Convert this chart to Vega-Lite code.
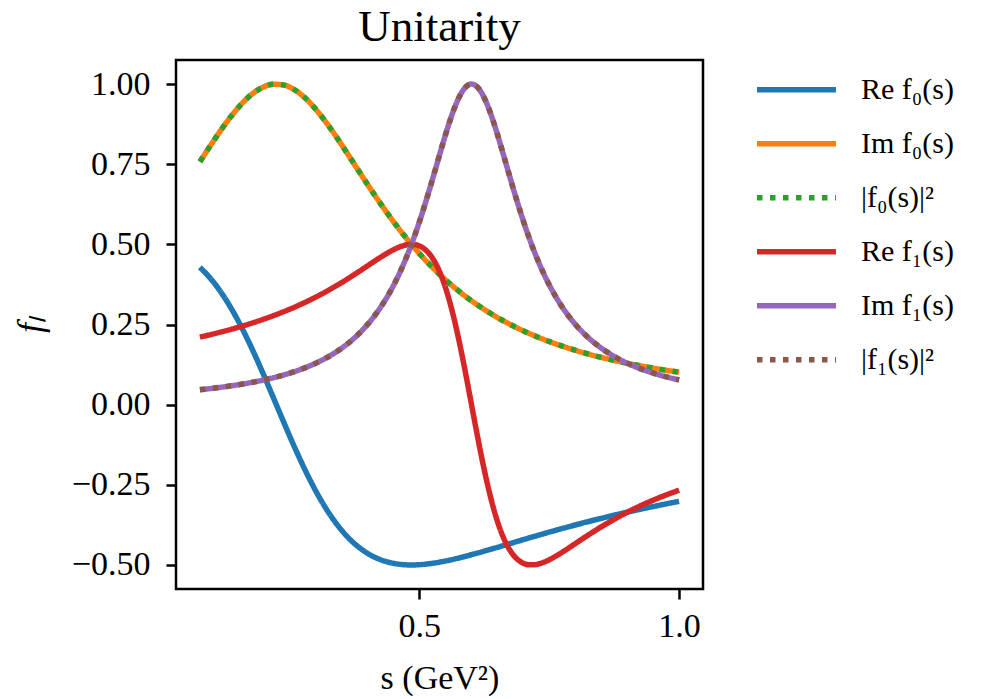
{
  "$schema": "https://vega.github.io/schema/vega-lite/v6.json",
  "autosize": {"type": "none"},
  "width": 527,
  "height": 529,
  "padding": {"left": 176, "top": 60, "right": 291, "bottom": 110},
  "background": "white",
  "config": {
    "view": {"stroke": "black", "strokeWidth": 2.5},
    "font": "Liberation Serif",
    "axis": {
      "grid": false,
      "domain": false,
      "tickColor": "black",
      "tickWidth": 2.5,
      "tickSize": 10,
      "labelColor": "black",
      "labelFont": "Liberation Serif",
      "labelFontSize": 34,
      "titleFont": "Liberation Serif",
      "titleFontWeight": "normal",
      "titleColor": "black"
    }
  },
  "title": {"text": "Unitarity", "font": "Liberation Serif", "fontSize": 45, "fontWeight": "normal", "color": "black", "offset": 10},
  "data": {"values": [
    {"s":0.078,"re0":0.4284,"im0":0.7577,"abs0":0.7577,"re1":0.2107,"im1":0.0466,"abs1":0.0466},
    {"s":0.10,"re0":0.3905,"im0":0.8123,"abs0":0.8123,"re1":0.2191,"im1":0.0505,"abs1":0.0505},
    {"s":0.12,"re0":0.3472,"im0":0.8598,"abs0":0.8598,"re1":0.2272,"im1":0.0546,"abs1":0.0546},
    {"s":0.14,"re0":0.2953,"im0":0.9034,"abs0":0.9034,"re1":0.2359,"im1":0.0592,"abs1":0.0592},
    {"s":0.16,"re0":0.2353,"im0":0.9412,"abs0":0.9412,"re1":0.2453,"im1":0.0643,"abs1":0.0643},
    {"s":0.18,"re0":0.1681,"im0":0.9709,"abs0":0.9709,"re1":0.2554,"im1":0.0701,"abs1":0.0701},
    {"s":0.20,"re0":0.0953,"im0":0.9908,"abs0":0.9908,"re1":0.2662,"im1":0.0768,"abs1":0.0768},
    {"s":0.22,"re0":0.0192,"im0":0.9996,"abs0":0.9996,"re1":0.2779,"im1":0.0843,"abs1":0.0843},
    {"s":0.24,"re0":-0.0575,"im0":0.9967,"abs0":0.9967,"re1":0.2905,"im1":0.0930,"abs1":0.0930},
    {"s":0.26,"re0":-0.1322,"im0":0.9822,"abs0":0.9822,"re1":0.3041,"im1":0.1031,"abs1":0.1031},
    {"s":0.28,"re0":-0.2025,"im0":0.9572,"abs0":0.9572,"re1":0.3189,"im1":0.1149,"abs1":0.1149},
    {"s":0.30,"re0":-0.2663,"im0":0.9232,"abs0":0.9232,"re1":0.3348,"im1":0.1286,"abs1":0.1286},
    {"s":0.32,"re0":-0.3224,"im0":0.8822,"abs0":0.8822,"re1":0.3520,"im1":0.1449,"abs1":0.1449},
    {"s":0.34,"re0":-0.3699,"im0":0.8364,"abs0":0.8364,"re1":0.3704,"im1":0.1642,"abs1":0.1642},
    {"s":0.36,"re0":-0.4090,"im0":0.7876,"abs0":0.7876,"re1":0.3901,"im1":0.1873,"abs1":0.1873},
    {"s":0.38,"re0":-0.4398,"im0":0.7378,"abs0":0.7378,"re1":0.4109,"im1":0.2151,"abs1":0.2151},
    {"s":0.40,"re0":-0.4632,"im0":0.6882,"abs0":0.6882,"re1":0.4324,"im1":0.2490,"abs1":0.2490},
    {"s":0.42,"re0":-0.4800,"im0":0.6400,"abs0":0.6400,"re1":0.4539,"im1":0.2903,"abs1":0.2903},
    {"s":0.44,"re0":-0.4911,"im0":0.5939,"abs0":0.5939,"re1":0.4740,"im1":0.3409,"abs1":0.3409},
    {"s":0.45,"re0":-0.4948,"im0":0.5718,"abs0":0.5718,"re1":0.4829,"im1":0.3704,"abs1":0.3704},
    {"s":0.46,"re0":-0.4975,"im0":0.5504,"abs0":0.5504,"re1":0.4905,"im1":0.4029,"abs1":0.4029},
    {"s":0.47,"re0":-0.4991,"im0":0.5297,"abs0":0.5297,"re1":0.4963,"im1":0.4389,"abs1":0.4389},
    {"s":0.48,"re0":-0.4999,"im0":0.5097,"abs0":0.5097,"re1":0.4995,"im1":0.4784,"abs1":0.4784},
    {"s":0.49,"re0":-0.4999,"im0":0.4905,"abs0":0.4905,"re1":0.4995,"im1":0.5217,"abs1":0.5217},
    {"s":0.50,"re0":-0.4992,"im0":0.4720,"abs0":0.4720,"re1":0.4953,"im1":0.5686,"abs1":0.5686},
    {"s":0.51,"re0":-0.4979,"im0":0.4542,"abs0":0.4542,"re1":0.4856,"im1":0.6191,"abs1":0.6191},
    {"s":0.52,"re0":-0.4960,"im0":0.4372,"abs0":0.4372,"re1":0.4693,"im1":0.6725,"abs1":0.6725},
    {"s":0.53,"re0":-0.4937,"im0":0.4209,"abs0":0.4209,"re1":0.4450,"im1":0.7280,"abs1":0.7280},
    {"s":0.54,"re0":-0.4909,"im0":0.4052,"abs0":0.4052,"re1":0.4114,"im1":0.7841,"abs1":0.7841},
    {"s":0.55,"re0":-0.4878,"im0":0.3902,"abs0":0.3902,"re1":0.3676,"im1":0.8390,"abs1":0.8390},
    {"s":0.56,"re0":-0.4844,"im0":0.3759,"abs0":0.3759,"re1":0.3129,"im1":0.8900,"abs1":0.8900},
    {"s":0.57,"re0":-0.4806,"im0":0.3622,"abs0":0.3622,"re1":0.2476,"im1":0.9344,"abs1":0.9344},
    {"s":0.58,"re0":-0.4767,"im0":0.3491,"abs0":0.3491,"re1":0.1729,"im1":0.9692,"abs1":0.9692},
    {"s":0.59,"re0":-0.4726,"im0":0.3366,"abs0":0.3366,"re1":0.0910,"im1":0.9917,"abs1":0.9917},
    {"s":0.60,"re0":-0.4682,"im0":0.3246,"abs0":0.3246,"re1":0.0052,"im1":1.0000,"abs1":1.0000},
    {"s":0.61,"re0":-0.4638,"im0":0.3132,"abs0":0.3132,"re1":-0.0809,"im1":0.9934,"abs1":0.9934},
    {"s":0.62,"re0":-0.4593,"im0":0.3023,"abs0":0.3023,"re1":-0.1634,"im1":0.9726,"abs1":0.9726},
    {"s":0.63,"re0":-0.4546,"im0":0.2919,"abs0":0.2919,"re1":-0.2391,"im1":0.9392,"abs1":0.9392},
    {"s":0.64,"re0":-0.4499,"im0":0.2819,"abs0":0.2819,"re1":-0.3056,"im1":0.8958,"abs1":0.8958},
    {"s":0.65,"re0":-0.4452,"im0":0.2723,"abs0":0.2723,"re1":-0.3616,"im1":0.8454,"abs1":0.8454},
    {"s":0.66,"re0":-0.4404,"im0":0.2632,"abs0":0.2632,"re1":-0.4067,"im1":0.7908,"abs1":0.7908},
    {"s":0.67,"re0":-0.4356,"im0":0.2545,"abs0":0.2545,"re1":-0.4415,"im1":0.7347,"abs1":0.7347},
    {"s":0.68,"re0":-0.4308,"im0":0.2462,"abs0":0.2462,"re1":-0.4668,"im1":0.6791,"abs1":0.6791},
    {"s":0.69,"re0":-0.4260,"im0":0.2382,"abs0":0.2382,"re1":-0.4840,"im1":0.6253,"abs1":0.6253},
    {"s":0.70,"re0":-0.4212,"im0":0.2305,"abs0":0.2305,"re1":-0.4944,"im1":0.5745,"abs1":0.5745},
    {"s":0.71,"re0":-0.4164,"im0":0.2232,"abs0":0.2232,"re1":-0.4993,"im1":0.5271,"abs1":0.5271},
    {"s":0.72,"re0":-0.4117,"im0":0.2162,"abs0":0.2162,"re1":-0.4997,"im1":0.4834,"abs1":0.4834},
    {"s":0.73,"re0":-0.4070,"im0":0.2095,"abs0":0.2095,"re1":-0.4968,"im1":0.4434,"abs1":0.4434},
    {"s":0.74,"re0":-0.4023,"im0":0.2031,"abs0":0.2031,"re1":-0.4913,"im1":0.4071,"abs1":0.4071},
    {"s":0.75,"re0":-0.3977,"im0":0.1970,"abs0":0.1970,"re1":-0.4839,"im1":0.3741,"abs1":0.3741},
    {"s":0.76,"re0":-0.3931,"im0":0.1911,"abs0":0.1911,"re1":-0.4751,"im1":0.3443,"abs1":0.3443},
    {"s":0.77,"re0":-0.3886,"im0":0.1854,"abs0":0.1854,"re1":-0.4654,"im1":0.3174,"abs1":0.3174},
    {"s":0.78,"re0":-0.3842,"im0":0.1800,"abs0":0.1800,"re1":-0.4552,"im1":0.2930,"abs1":0.2930},
    {"s":0.80,"re0":-0.3754,"im0":0.1698,"abs0":0.1698,"re1":-0.4337,"im1":0.2512,"abs1":0.2512},
    {"s":0.82,"re0":-0.3669,"im0":0.1603,"abs0":0.1603,"re1":-0.4122,"im1":0.2170,"abs1":0.2170},
    {"s":0.84,"re0":-0.3587,"im0":0.1516,"abs0":0.1516,"re1":-0.3914,"im1":0.1888,"abs1":0.1888},
    {"s":0.86,"re0":-0.3507,"im0":0.1436,"abs0":0.1436,"re1":-0.3716,"im1":0.1655,"abs1":0.1655},
    {"s":0.88,"re0":-0.3429,"im0":0.1361,"abs0":0.1361,"re1":-0.3531,"im1":0.1460,"abs1":0.1460},
    {"s":0.90,"re0":-0.3354,"im0":0.1292,"abs0":0.1292,"re1":-0.3358,"im1":0.1295,"abs1":0.1295},
    {"s":0.92,"re0":-0.3282,"im0":0.1228,"abs0":0.1228,"re1":-0.3198,"im1":0.1156,"abs1":0.1156},
    {"s":0.94,"re0":-0.3212,"im0":0.1168,"abs0":0.1168,"re1":-0.3050,"im1":0.1038,"abs1":0.1038},
    {"s":0.96,"re0":-0.3144,"im0":0.1112,"abs0":0.1112,"re1":-0.2913,"im1":0.0936,"abs1":0.0936},
    {"s":0.98,"re0":-0.3079,"im0":0.1060,"abs0":0.1060,"re1":-0.2786,"im1":0.0848,"abs1":0.0848},
    {"s":1.00,"re0":-0.3016,"im0":0.1012,"abs0":0.1012,"re1":-0.2669,"im1":0.0772,"abs1":0.0772}
  ]},
  "transform": [
    {"fold": ["re0", "im0", "abs0", "re1", "im1", "abs1"], "as": ["series", "value"]}
  ],
  "encoding": {
    "x": {"field": "s", "type": "quantitative",
      "scale": {"domain": [0.032, 1.046], "nice": false, "zero": false},
      "axis": {"values": [0.5, 1.0], "format": ".1f", "title": "s (GeV²)", "titleFontSize": 34, "labelPadding": 10, "titlePadding": 18}},
    "y": {"field": "value", "type": "quantitative",
      "scale": {"domain": [-0.575, 1.075], "nice": false, "zero": false},
      "axis": {"values": [-0.5, -0.25, 0, 0.25, 0.5, 0.75, 1.0], "format": ".2f", "title": "fₗ", "titleFontSize": 36, "titleFontStyle": "italic", "labelPadding": 16, "titlePadding": 22}},
    "color": {"field": "series", "type": "nominal",
      "scale": {"domain": ["re0", "im0", "abs0", "re1", "im1", "abs1"], "range": ["#1f77b4", "#ff7f0e", "#2ca02c", "#d62728", "#9467bd", "#8c564b"]},
      "legend": {"title": null, "orient": "none", "legendX": 578, "legendY": 3,
        "symbolType": "stroke", "symbolSize": 6241, "symbolStrokeWidth": 5.5, "clipHeight": 53.5,
        "labelFont": "Liberation Serif", "labelFontSize": 30, "labelColor": "black", "labelOffset": 22, "rowPadding": 0,
        "labelExpr": "datum.label == 're0' ? 'Re f₀(s)' : datum.label == 'im0' ? 'Im f₀(s)' : datum.label == 'abs0' ? '|f₀(s)|²' : datum.label == 're1' ? 'Re f₁(s)' : datum.label == 'im1' ? 'Im f₁(s)' : '|f₁(s)|²'"}},
    "strokeDash": {"field": "series", "type": "nominal",
      "scale": {"domain": ["re0", "im0", "abs0", "re1", "im1", "abs1"], "range": [[1, 0], [1, 0], [5.5, 7.5], [1, 0], [1, 0], [5.5, 7.5]]},
      "legend": {"title": null, "orient": "none", "legendX": 578, "legendY": 3,
        "symbolType": "stroke", "symbolSize": 6241, "symbolStrokeWidth": 5.5, "clipHeight": 53.5,
        "labelFont": "Liberation Serif", "labelFontSize": 30, "labelColor": "black", "labelOffset": 22, "rowPadding": 0,
        "labelExpr": "datum.label == 're0' ? 'Re f₀(s)' : datum.label == 'im0' ? 'Im f₀(s)' : datum.label == 'abs0' ? '|f₀(s)|²' : datum.label == 're1' ? 'Re f₁(s)' : datum.label == 'im1' ? 'Im f₁(s)' : '|f₁(s)|²'"}}
  },
  "layer": [
    {"transform": [{"filter": "datum.series == 're0'"}], "mark": {"type": "line", "interpolate": "monotone", "strokeWidth": 5.5}},
    {"transform": [{"filter": "datum.series == 'im0'"}], "mark": {"type": "line", "interpolate": "monotone", "strokeWidth": 5.5}},
    {"transform": [{"filter": "datum.series == 'abs0'"}], "mark": {"type": "line", "interpolate": "monotone", "strokeWidth": 5.5}},
    {"transform": [{"filter": "datum.series == 're1'"}], "mark": {"type": "line", "interpolate": "monotone", "strokeWidth": 5.5}},
    {"transform": [{"filter": "datum.series == 'im1'"}], "mark": {"type": "line", "interpolate": "monotone", "strokeWidth": 5.5}},
    {"transform": [{"filter": "datum.series == 'abs1'"}], "mark": {"type": "line", "interpolate": "monotone", "strokeWidth": 5.5}}
  ]
}
